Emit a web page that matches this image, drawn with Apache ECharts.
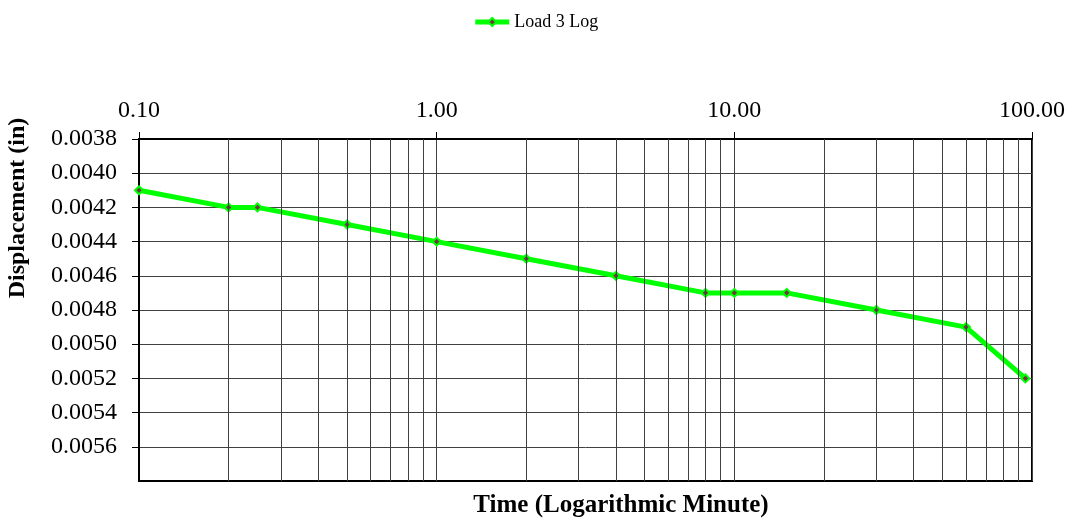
<!DOCTYPE html>
<html>
<head>
<meta charset="utf-8">
<script src="https://cdn.jsdelivr.net/npm/echarts@6/dist/echarts.min.js"></script>
<style>html,body{margin:0;padding:0;background:#fff}#c{width:1071px;height:520px}</style>
</head>
<body>
<div id="c"></div>
<script>
const seriesName = 'Load 3 Log';
const times = [0.1, 0.2, 0.25, 0.5, 1, 2, 4, 8, 10, 15, 30, 60, 95];
const displacement = [0.0041, 0.0042, 0.0042, 0.0043, 0.0044, 0.0045, 0.0046, 0.0047, 0.0047, 0.0047, 0.0048, 0.0049, 0.0052];
const minorGridTimes = [0.2,0.3,0.4,0.5,0.6,0.7,0.8,0.9, 2,3,4,5,6,7,8,9, 20,30,40,50,60,70,80,90];
const yTickValues = [0.0038,0.0040,0.0042,0.0044,0.0046,0.0048,0.0050,0.0052,0.0054,0.0056];
const xTitle = 'Time (Logarithmic Minute)';
const yTitle = 'Displacement (in)';

const font = 'Liberation Serif';
const gridColor = '#404040';
const chart = echarts.init(document.getElementById('c'));
chart.setOption({
  animation: false,
  textStyle: { fontFamily: font },
  legend: {
    top: 8, left: 'center',
    itemWidth: 34, itemHeight: 10, itemGap: 2,
    lineStyle: { width: 5 },
    textStyle: { fontFamily: font, fontSize: 18, color: '#000' },
    data: [seriesName]
  },
  grid: { left: 139, right: 39, top: 139, bottom: 39, show: true, borderColor: '#000', borderWidth: 2, backgroundColor: 'transparent' },
  xAxis: {
    type: 'log', logBase: 10, min: 0.1, max: 100, position: 'top',
    axisLine: { show: true, lineStyle: { color: '#000', width: 2 } },
    axisTick: { show: true, inside: false, length: 7, lineStyle: { color: '#000' } },
    axisLabel: { margin: 16, fontSize: 24, fontFamily: font, color: '#000', formatter: v => Number(v).toFixed(2) },
    splitLine: { show: true, lineStyle: { color: gridColor, width: 1 } }
  },
  yAxis: {
    type: 'value', inverse: true, min: 0.0038, max: 0.0058, interval: 0.0002,
    axisLine: { show: true, lineStyle: { color: '#000', width: 2 } },
    axisTick: { show: true, inside: false, length: 7, lineStyle: { color: '#000' }, customValues: yTickValues },
    axisLabel: { margin: 22, fontSize: 24, fontFamily: font, color: '#000', customValues: yTickValues,
      formatter: v => Number(v).toFixed(4) },
    splitLine: { show: true, lineStyle: { color: gridColor, width: 1 } }
  },
  graphic: [
    { type: 'text', x: 18, y: 208, rotation: Math.PI / 2,
      style: { text: yTitle, font: 'bold 24px "Liberation Serif"', fill: '#000', align: 'center', verticalAlign: 'middle' } },
    { type: 'text', x: 621, y: 506,
      style: { text: xTitle, font: 'bold 25px "Liberation Serif"', fill: '#000', align: 'center', verticalAlign: 'middle' } }
  ],
  series: [
    {
      type: 'line', name: 'minor', data: [], z: 0, silent: true,
      markLine: {
        silent: true, symbol: ['none', 'none'], animation: false,
        label: { show: false },
        lineStyle: { color: gridColor, width: 1, type: 'solid' },
        emphasis: { disabled: true },
        data: minorGridTimes.map(t => ({ xAxis: t }))
      }
    },
    {
      type: 'line', name: seriesName, z: 3,
      data: times.map((t, i) => [t, displacement[i]]),
      lineStyle: { color: '#00ff00', width: 5 },
      symbol: 'diamond', symbolSize: 8,
      itemStyle: { color: '#6b3a3a', borderColor: '#00ff00', borderWidth: 2 }
    }
  ]
});
</script>
</body>
</html>
